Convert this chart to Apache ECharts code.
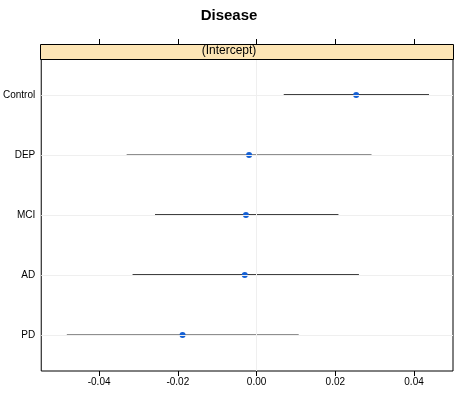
<!DOCTYPE html>
<html>
<head>
<meta charset="utf-8">
<script src="https://cdn.jsdelivr.net/npm/echarts@6/dist/echarts.min.js"></script>
<style>html,body{margin:0;padding:0;background:#fff;}#c{width:458px;height:393px;}</style>
</head>
<body>
<div id="c"></div>
<script>
var categories = ['Control', 'DEP', 'MCI', 'AD', 'PD'];
var estimates = [0.0253, -0.0019, -0.0027, -0.0030, -0.0188];
var lower = [0.0069, -0.0330, -0.0258, -0.0315, -0.0482];
var upper = [0.0438, 0.0292, 0.0208, 0.0260, 0.0107];
var lineColors = ['#000000', '#6a6a6a', '#000000', '#000000', '#6a6a6a'];
var xTicks = [-0.04, -0.02, 0, 0.02, 0.04];
var titleText = 'Disease';
var stripText = '(Intercept)';

var FONT = '"Liberation Sans", Arial, sans-serif';
var chart = echarts.init(document.getElementById('c'), null, {renderer: 'canvas'});

var barData = categories.map(function (c, i) { return [lower[i], upper[i], i + 1, i]; });
var pointData = categories.map(function (c, i) { return [estimates[i], i + 1]; });
var yPos = categories.map(function (c, i) { return i + 1; });

var option = {
  backgroundColor: '#fff',
  animation: false,
  title: {
    text: titleText, left: 'center', top: 3,
    textStyle: {fontFamily: FONT, fontSize: 15, fontWeight: 'bold', color: '#000'}
  },
  grid: {left: 40, right: 5, top: 59, bottom: 22, show: true, borderColor: '#000', borderWidth: 1, backgroundColor: 'transparent'},
  xAxis: [{
    type: 'value', position: 'bottom', min: -0.0547, max: 0.0499,
    axisLine: {show: false},
    axisTick: {show: true, inside: false, length: 5, lineStyle: {color: '#000'}, customValues: xTicks},
    axisLabel: {customValues: xTicks, fontFamily: FONT, fontSize: 10, color: '#000', margin: 6,
      formatter: function (v) { return v.toFixed(2); }},
    splitLine: {show: false}
  }, {
    type: 'value', position: 'top', offset: 15, min: -0.0547, max: 0.0499,
    axisLine: {show: false},
    axisTick: {show: true, inside: false, length: 5, lineStyle: {color: '#000'}, customValues: xTicks},
    axisLabel: {show: false},
    splitLine: {show: false}
  }],
  yAxis: {
    type: 'value', inverse: true, min: 0.4, max: 5.6,
    axisLine: {show: false},
    axisTick: {show: false},
    axisLabel: {customValues: yPos, fontFamily: FONT, fontSize: 10, color: '#000', margin: 6,
      formatter: function (v) { return categories[Math.round(v) - 1] || ''; }},
    splitLine: {show: false}
  },
  graphic: [{
    type: 'rect', left: 40, top: 44, z: 10,
    shape: {width: 413, height: 15},
    style: {fill: '#fde5b5', stroke: '#000', lineWidth: 1}
  }, {
    type: 'text', left: 'center', top: 45, z: 11,
    style: {text: stripText, font: '12px ' + FONT, fill: '#000'}
  }],
  series: [{
    type: 'line', data: [], silent: true,
    markLine: {
      symbol: 'none', silent: true, label: {show: false},
      lineStyle: {color: '#efefef', width: 1, type: 'solid'},
      data: yPos.map(function (p) { return {yAxis: p}; }).concat([{xAxis: 0}])
    }
  }, {
    type: 'custom',
    data: barData,
    renderItem: function (params, api) {
      var p1 = api.coord([api.value(0), api.value(2)]);
      var p2 = api.coord([api.value(1), api.value(2)]);
      var idx = api.value(3);
      return {
        type: 'line',
        shape: {x1: p1[0], y1: p1[1], x2: p2[0], y2: p2[1]},
        style: {stroke: lineColors[idx], lineWidth: 1.5}
      };
    },
    z: 3
  }, {
    type: 'scatter',
    data: pointData,
    symbol: 'circle', symbolSize: 6,
    itemStyle: {color: '#1560d4', opacity: 1},
    z: 4
  }]
};
chart.setOption(option);
</script>
</body>
</html>
